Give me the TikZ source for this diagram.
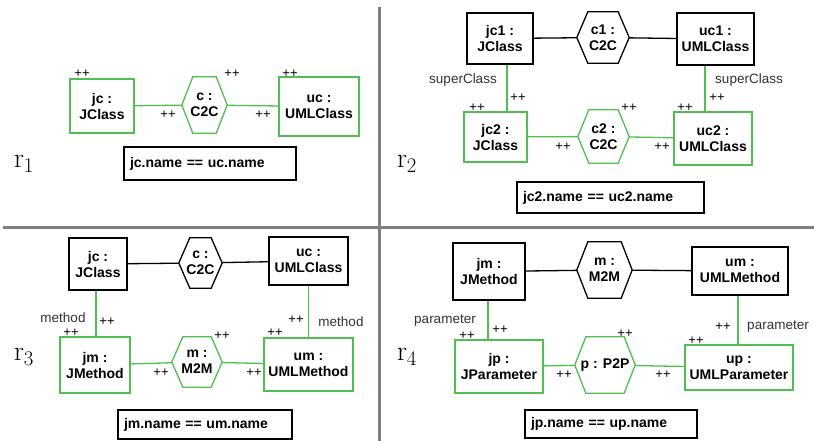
\documentclass[tikz,border=0pt]{standalone}
\usepackage{fontspec}
\newfontfamily\arial{Liberation Sans}
\usetikzlibrary{positioning}
\definecolor{rulegreen}{RGB}{80,190,80}
\definecolor{divgray}{RGB}{128,128,128}
% hexagon border round a link node
\newcommand{\linkhex}[2]{\draw[wire,#2] (#1.west) -- ([xshift=11pt]#1.north west) -- ([xshift=-11pt]#1.north east) -- (#1.east) -- ([xshift=-11pt]#1.south east) -- ([xshift=11pt]#1.south west) -- cycle;}

\begin{document}
\begin{tikzpicture}[x=1pt,y=-1pt,
	obj/.style={draw,rectangle,line width=1.3pt,align=center,inner sep=1pt,font=\arial\bfseries\fontsize{14}{16}\selectfont},
	link/.style={rectangle,align=center,inner sep=0pt,font=\arial\bfseries\fontsize{14}{16}\selectfont},
	cond/.style={draw,line width=1.3pt,inner xsep=6pt,align=left,font=\arial\bfseries\fontsize{14}{16}\selectfont},
	new/.style={draw=rulegreen},
	wire/.style={line width=1.3pt},
	plus/.style={font=\arial\fontsize{13}{13}\selectfont,inner sep=0pt},
	role/.style={font=\arial\fontsize{13.5}{14}\selectfont,text=black!80,inner sep=0pt},
	rname/.style={font=\fontsize{28}{28}\selectfont,inner sep=0pt}]
		\useasboundingbox (0,0) rectangle (814,441);
		% dividers
		\draw[divgray,line width=3pt] (379,7) -- (379,441);
		\draw[divgray,line width=3pt] (3,227) -- (814,227);
		
		% r1
		\node[obj,new,minimum width=64pt,minimum height=54pt] (jcA) at (102,106) {jc :\\JClass};
		\node[link,minimum width=45pt,minimum height=56pt] (cA) at (204.5,105) {c :\\C2C};
		\node[obj,new,minimum width=80pt,minimum height=59pt] (ucA) at (319,106.5) {uc :\\UMLClass};
		\node[cond,text width=160pt,minimum height=33pt] (condA) at (210,163.5) {jc.name == uc.name};
		\node[rname] (rA) at (24,164) {$\mathrm{r}_1$};
		\linkhex{cA}{new}
		\draw[wire,new] (jcA) -- (cA) (cA) -- (ucA);
		\node[plus] at (82,74) {++};
		\node[plus] at (232,74) {++};
		\node[plus] at (290,74) {++};
		\node[plus] at (168,115) {++};
		\node[plus] at (263,115) {++};
		
		% r2
		\node[obj,minimum width=66pt,minimum height=51pt] (jcB1) at (500,38.5) {jc1 :\\JClass};
		\node[link,minimum width=52pt,minimum height=51pt] (cB1) at (603,37.5) {c1 :\\C2C};
		\node[obj,minimum width=77pt,minimum height=52pt] (ucB1) at (715.5,39) {uc1 :\\UMLClass};
		\node[obj,new,minimum width=63pt,minimum height=50pt] (jcB2) at (495.5,137) {jc2 :\\JClass};
		\node[link,minimum width=51pt,minimum height=53pt] (cB2) at (603.5,136.5) {c2 :\\C2C};
		\node[obj,new,minimum width=78pt,minimum height=53pt] (ucB2) at (713,138.5) {uc2 :\\UMLClass};
		\node[cond,text width=175pt,minimum height=31pt] (condB) at (610.5,197.5) {jc2.name == uc2.name};
		\node[rname] (rB) at (407,164) {$\mathrm{r}_2$};
		\linkhex{cB1}{}
		\linkhex{cB2}{new}
		\draw[wire] (jcB1) -- (cB1) (cB1) -- (ucB1);
		\draw[wire,new] (jcB2) -- (cB2) (cB2) -- (ucB2);
		\draw[wire,new] ([xshift=7pt]jcB1.south) -- ([xshift=7pt]jcB1.south |- jcB2.north);
		\draw[wire,new] ([xshift=-10.5pt]ucB1.south) -- ([xshift=-10.5pt]ucB1.south |- ucB2.north);
		\node[role] at (463,80) {superClass};
		\node[role] at (749,80) {superClass};
		\node[plus] at (518,98) {++};
		\node[plus] at (717,98) {++};
		\node[plus] at (477,108) {++};
		\node[plus] at (629,108) {++};
		\node[plus] at (685,108) {++};
		\node[plus] at (563,147) {++};
		\node[plus] at (662,147) {++};
		
		% r3
		\node[obj,minimum width=58pt,minimum height=52pt] (jcC) at (98,264) {jc :\\JClass};
		\node[link,minimum width=43pt,minimum height=50pt] (cC) at (200.5,263) {c :\\C2C};
		\node[obj,minimum width=79pt,minimum height=48pt] (ucC) at (308.5,261) {uc :\\UMLClass};
		\node[obj,new,minimum width=70pt,minimum height=56pt] (jmC) at (95,365) {jm :\\JMethod};
		\node[link,minimum width=50pt,minimum height=50pt] (mC) at (197,362) {m :\\M2M};
		\node[obj,new,minimum width=89pt,minimum height=53pt] (umC) at (308.5,364.5) {um :\\UMLMethod};
		\node[cond,text width=162pt,minimum height=29pt] (condC) at (205,424.5) {jm.name == um.name};
		\node[rname] (rC) at (24,357) {$\mathrm{r}_3$};
		\linkhex{cC}{}
		\linkhex{mC}{new}
		\draw[wire] (jcC) -- (cC) (cC) -- (ucC);
		\draw[wire,new] (jmC) -- (mC) (mC) -- (umC);
		\draw[wire,new] ([xshift=-2pt]jcC.south) -- ([xshift=-2pt]jcC.south |- jmC.north);
		\draw[wire,new] (ucC.south) -- (ucC.south |- umC.north);
		\node[role] at (63,318) {method};
		\node[role] at (341,322) {method};
		\node[plus] at (107,322) {++};
		\node[plus] at (296,320) {++};
		\node[plus] at (71,333) {++};
		\node[plus] at (222,336) {++};
		\node[plus] at (275,333) {++};
		\node[plus] at (161,373) {++};
		\node[plus] at (254,373) {++};
		
		% r4
		\node[obj,minimum width=72pt,minimum height=57pt] (jmD) at (489,271.5) {jm :\\JMethod};
		\node[link,minimum width=55pt,minimum height=56pt] (mD) at (604.5,270) {m :\\M2M};
		\node[obj,minimum width=96pt,minimum height=48pt] (umD) at (740,271) {um :\\UMLMethod};
		\node[obj,new,minimum width=88pt,minimum height=53pt] (jpD) at (499,366.5) {jp :\\JParameter};
		\node[link,minimum width=60pt,minimum height=56pt] (pD) at (605,365) {p : P2P};
		\node[obj,new,minimum width=108pt,minimum height=45pt] (upD) at (739,367.5) {up :\\UMLParameter};
		\node[cond,text width=160pt,minimum height=28pt] (condD) at (611,424) {jp.name == up.name};
		\node[rname] (rD) at (407,357) {$\mathrm{r}_4$};
		\linkhex{mD}{}
		\linkhex{pD}{new}
		\draw[wire] (jmD) -- (mD) (mD) -- (umD);
		\draw[wire,new] (jpD) -- (pD) (pD) -- (upD);
		\draw[wire,new] ([xshift=-1pt]jmD.south) -- ([xshift=-1pt]jmD.south |- jpD.north);
		\draw[wire,new] ([xshift=-2pt]umD.south) -- ([xshift=-2pt]umD.south |- upD.north);
		\node[role] at (445,321) {parameter};
		\node[role] at (778,327) {parameter};
		\node[plus] at (500,330) {++};
		\node[plus] at (723,327) {++};
		\node[plus] at (467,336) {++};
		\node[plus] at (625,334) {++};
		\node[plus] at (696,341) {++};
		\node[plus] at (564,375) {++};
		\node[plus] at (663,375) {++};
	\end{tikzpicture}
\end{document}
